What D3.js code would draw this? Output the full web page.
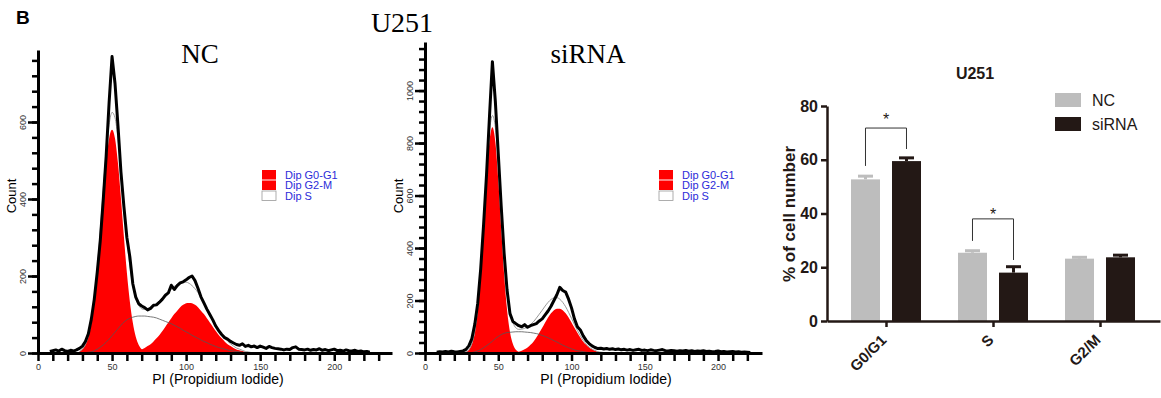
<!DOCTYPE html>
<html>
<head>
<meta charset="utf-8">
<script src="https://cdn.jsdelivr.net/npm/d3@7"></script>
<style>
  body { margin: 0; background: #fff; }
  svg { display: block; }
</style>
</head>
<body>
<svg id="fig" width="1161" height="398"></svg>
<script>
// ---------- histogram data (counts every 2 channels) ----------
const ncCountStart = 8;
const ncCount = [4,6,8,5,10,6,4,7,5,8,
  12,18,30,50,88,140,210,290,395,510,
  650,770,700,590,470,380,300,250,180,145,
  128,122,118,112,116,124,125,132,140,150,
  156,176,165,175,182,185,190,196,200,188,
  168,146,130,114,100,86,70,58,48,40,
  36,30,26,22,20,24,17,20,16,18,
  14,18,15,12,17,14,12,11,10,8,
  10,9,14,16,10,9,8,10,7,9,
  8,11,7,9,6,8,10,6,7,5,
  8,6,5,7,4,5,3,4,2];

// fitted components, channels 28..144 step 2
const ncFitStart = 28;
const ncG1 = [4,10,21,42,79,134,209,302,402,493,
  557,580,557,493,402,302,209,134,79,42,
  21,10,4,2,1,0,0,0,0,0,
  0,0,0,0,0,0,0,0,0,0,
  0,0,0,0,0,0,0,0,0,0,
  0,0,0,0,0,0,0,0,0];
const ncS = [0,0,1,2,3,6,10,15,21,28,
  36,45,54,63,72,80,86,90,93,95,
  96,96,96,95,94,93,91,88,85,82,
  79,76,72,68,64,59,55,51,46,42,
  38,34,30,27,23,20,17,14,12,10,
  8,6,5,4,3,2,1,1,0];
const ncG2 = [0,0,0,0,0,0,0,0,0,0,0,0,0,0,0,0,
  1,2,3,5,7,9,13,18,23,30,
  38,47,57,68,79,90,101,110,119,125,
  129,130,129,125,119,110,101,90,79,68,
  57,47,38,30,23,18,13,9,7,5,
  3,2,1];

const siCountStart = 8;
const siCount = [3,5,4,6,4,7,5,4,6,8,
  14,28,55,110,190,320,490,680,900,1110,
  960,760,560,380,240,150,120,112,104,100,
  108,98,104,108,112,122,130,145,160,178,
  200,222,250,238,232,205,172,130,100,88,
  65,48,36,27,21,17,18,15,17,14,
  16,13,15,12,14,11,13,10,12,14,
  10,11,9,12,10,9,11,13,9,8,
  10,9,7,9,8,10,7,9,6,8,
  7,9,6,7,5,6,8,5,6,4,
  5,6,4,5,3,4,3,2];

// fitted components, channels 26..122 step 2
const siFitStart = 26;
const siG1 = [1,4,12,34,80,165,299,474,660,805,
  860,805,660,474,299,165,80,34,12,4,
  1,0,0,0,0,0,0,0,0,0,
  0,0,0,0,0,0,0,0,0,0,
  0,0,0,0,0,0,0,0,0];
const siS = [0,0,1,2,4,8,13,20,28,36,
  45,55,63,70,75,78,79,80,81,81,
  81,80,79,78,76,74,71,67,63,58,
  53,47,42,36,30,25,20,16,12,9,
  7,5,3,2,1,1,0,0,0];
const siG2 = [0,0,0,0,0,0,0,0,0,0,0,0,0,0,0,0,
  1,2,3,5,9,14,21,31,43,59,
  77,96,116,135,151,163,169,169,163,151,
  135,116,96,77,59,43,31,21,14,9,
  5,3,2];

const legendLabels = ['Dip G0-G1', 'Dip G2-M', 'Dip S'];
const histXLabels = [0, 50, 100, 150, 200];
const ncYLabels = [0, 200, 400, 600];
const siYLabels = [0, 200, 400, 600, 800, 1000];

// ---------- bar chart data ----------
const phases = ['G0/G1', 'S', 'G2/M'];
const groups = ['NC', 'siRNA'];
const ncMean = [52.7, 25.4, 23.2];
const ncSem = [1.2, 0.75, 0.5];
const siMean = [59.5, 18.0, 23.7];
const siSem = [1.2, 2.2, 0.8];
const barTicks = [0, 20, 40, 60, 80];
// significance brackets: left end, top, right end, star height (%)
const sigPhases = ['G0/G1', 'S'];
const sigLeft = [57.7, 29.8];
const sigTop = [71.8, 38.0];
const sigRight = [64.0, 22.7];
const sigStar = [76.0, 40.7];

const SANS = 'Liberation Sans, Arial, sans-serif';
const SERIF = 'Liberation Serif, Times New Roman, serif';
const svg = d3.select('#fig');

function drawHistogram(cfg) {
  const g = svg.append('g');
  const x = d3.scaleLinear().domain([0, cfg.xMax]).range([cfg.left, cfg.right]);
  const y = d3.scaleLinear().domain([0, cfg.yMax]).range([cfg.bottom, cfg.top]);

  const fit = cfg.g1.map((v, i) => ({ch: cfg.fitStart + i * 2, g1: v, s: cfg.s[i], g2: cfg.g2[i]}));
  const counts = cfg.count.map((v, i) => ({ch: cfg.countStart + i * 2, c: v}));

  const area = key => d3.area().curve(d3.curveMonotoneX)
    .x(d => x(d.ch)).y0(y(0)).y1(d => y(d[key]));
  g.append('path').datum(fit).attr('d', area('g1')).attr('fill', '#ff0000');
  g.append('path').datum(fit).attr('d', area('g2')).attr('fill', '#ff0000');

  g.append('path').datum(fit)
    .attr('d', d3.line().curve(d3.curveMonotoneX).x(d => x(d.ch)).y(d => y(d.s)))
    .attr('fill', 'none').attr('stroke', '#555').attr('stroke-width', 0.8);
  g.append('path').datum(fit)
    .attr('d', d3.line().curve(d3.curveMonotoneX).x(d => x(d.ch)).y(d => y(d.g1 + d.s + d.g2)))
    .attr('fill', 'none').attr('stroke', '#999').attr('stroke-width', 1);

  g.append('path').datum(counts)
    .attr('d', d3.line().x(d => x(d.ch)).y(d => y(d.c)))
    .attr('fill', 'none').attr('stroke', '#000').attr('stroke-width', 3)
    .attr('stroke-linejoin', 'round');

  // x axis
  const xa = g.append('g').attr('transform', `translate(0,${cfg.bottom})`)
    .call(d3.axisBottom(x).tickValues(d3.range(0, cfg.xTickMax + 1, 10))
      .tickSize(8).tickSizeOuter(0).tickPadding(3)
      .tickFormat(d => histXLabels.includes(d) ? d : ''));
  xa.select('.domain').attr('stroke-width', 3);
  xa.selectAll('.tick line').attr('stroke-width', 2.5);
  xa.selectAll('text').attr('font-family', SANS).attr('font-size', 9).attr('fill', '#333');

  // y axis: minor ticks then labelled ticks
  const ya = g.append('g').attr('transform', `translate(${cfg.left},0)`)
    .call(d3.axisLeft(y).tickValues(d3.range(0, cfg.yTickMax + 1, 40))
      .tickSize(6).tickSizeOuter(0).tickFormat(''));
  ya.select('.domain').attr('stroke-width', 3);
  ya.selectAll('.tick line').attr('stroke-width', 2.5);
  const yl = g.append('g').attr('transform', `translate(${cfg.left},0)`)
    .call(d3.axisLeft(y).tickValues(cfg.yLabels).tickSize(10).tickSizeOuter(0)
      .tickFormat(d3.format('d')));
  yl.select('.domain').remove();
  yl.selectAll('.tick line').attr('stroke-width', 2.5);
  yl.selectAll('text')
    .attr('x', null).attr('dy', null)
    .attr('transform', 'translate(-12,0) rotate(-90)')
    .attr('text-anchor', 'middle')
    .attr('font-family', SANS).attr('font-size', 9).attr('fill', '#333');

  // axis titles
  g.append('text').attr('transform', `translate(${cfg.left - 22},${cfg.countY}) rotate(-90)`)
    .attr('text-anchor', 'middle').attr('font-family', SANS).attr('font-size', 13)
    .text('Count');
  g.append('text').attr('x', cfg.xTitleX).attr('y', 384)
    .attr('text-anchor', 'middle').attr('font-family', SANS).attr('font-size', 14)
    .text('PI (Propidium Iodide)');
  g.append('text').attr('x', cfg.titleX).attr('y', 63)
    .attr('text-anchor', 'middle').attr('font-family', SERIF).attr('font-size', 27)
    .text(cfg.title);

  // legend
  const lg = g.append('g').attr('transform', `translate(${cfg.legendX},170)`);
  legendLabels.forEach((lab, i) => {
    lg.append('rect').attr('x', 0).attr('y', i * 10.5).attr('width', 14).attr('height', 9.5)
      .attr('fill', i < 2 ? '#ff0000' : '#fff')
      .attr('stroke', i < 2 ? 'none' : '#999').attr('stroke-width', 0.8);
    lg.append('text').attr('x', 23).attr('y', i * 10.5 + 8.5)
      .attr('font-family', SANS).attr('font-size', 11).attr('fill', '#2b2bd9')
      .text(lab);
  });
}

drawHistogram({
  left: 38, right: 392, top: 50, bottom: 353, xMax: 239, yMax: 787,
  xTickMax: 230, yTickMax: 760, yLabels: ncYLabels,
  count: ncCount, countStart: ncCountStart,
  g1: ncG1, s: ncS, g2: ncG2, fitStart: ncFitStart,
  title: 'NC', titleX: 200, xTitleX: 218, countY: 196, legendX: 262
});
drawHistogram({
  left: 425, right: 762, top: 42, bottom: 353, xMax: 230, yMax: 1185,
  xTickMax: 220, yTickMax: 1160, yLabels: siYLabels,
  count: siCount, countStart: siCountStart,
  g1: siG1, s: siS, g2: siG2, fitStart: siFitStart,
  title: 'siRNA', titleX: 588, xTitleX: 606, countY: 196, legendX: 659
});

// figure headings
svg.append('text').attr('x', 16).attr('y', 24)
  .attr('font-family', SANS).attr('font-weight', 'bold').attr('font-size', 19).text('B');
svg.append('text').attr('x', 402).attr('y', 32).attr('text-anchor', 'middle')
  .attr('font-family', SERIF).attr('font-size', 28).text('U251');

// ---------- bar chart ----------
const bar = svg.append('g');
const yBar = d3.scaleLinear().domain([0, 80]).range([321, 106]);
const xBar = d3.scaleBand().domain(phases).range([827, 1160]).paddingInner(0).paddingOuter(0.056);
const xSub = d3.scaleBand().domain(groups).range([-35.5, 34.5]).paddingInner(0.293);
const colors = {NC: '#bdbdbd', siRNA: '#231815'};
const seriesMean = {NC: ncMean, siRNA: siMean};
const seriesSem = {NC: ncSem, siRNA: siSem};

const barData = [];
phases.forEach((p, i) => groups.forEach(grp => {
  barData.push({phase: p, group: grp, mean: seriesMean[grp][i], sem: seriesSem[grp][i]});
}));
const bx = d => xBar(d.phase) + xBar.bandwidth() / 2 + xSub(d.group);

bar.selectAll('rect.bar').data(barData).enter().append('rect')
  .attr('class', 'bar')
  .attr('x', bx)
  .attr('y', d => yBar(d.mean))
  .attr('width', xSub.bandwidth())
  .attr('height', d => yBar(0) - yBar(d.mean))
  .attr('fill', d => colors[d.group]);

// error bars (upper only)
bar.selectAll('line.stem').data(barData).enter().append('line')
  .attr('x1', d => bx(d) + xSub.bandwidth() / 2).attr('x2', d => bx(d) + xSub.bandwidth() / 2)
  .attr('y1', d => yBar(d.mean)).attr('y2', d => yBar(d.mean + d.sem))
  .attr('stroke', d => colors[d.group]).attr('stroke-width', 3);
bar.selectAll('line.cap').data(barData).enter().append('line')
  .attr('x1', d => bx(d) + xSub.bandwidth() / 2 - 7.5).attr('x2', d => bx(d) + xSub.bandwidth() / 2 + 7.5)
  .attr('y1', d => yBar(d.mean + d.sem)).attr('y2', d => yBar(d.mean + d.sem))
  .attr('stroke', d => colors[d.group]).attr('stroke-width', 3);

// axes
const yAx = bar.append('g').attr('transform', 'translate(827,0)')
  .call(d3.axisLeft(yBar).tickValues(barTicks).tickSize(6).tickSizeOuter(0).tickPadding(3));
yAx.select('.domain').attr('stroke', '#231815').attr('stroke-width', 2.5);
yAx.selectAll('.tick line').attr('stroke', '#231815').attr('stroke-width', 2.5);
yAx.selectAll('text').attr('font-family', SANS).attr('font-weight', 'bold')
  .attr('font-size', 16).attr('fill', '#231815');

const xAx = bar.append('g').attr('transform', 'translate(0,321)')
  .call(d3.axisBottom(xBar).tickSize(6).tickSizeOuter(0).tickPadding(3));
xAx.select('.domain').attr('stroke', '#231815').attr('stroke-width', 2.5);
xAx.selectAll('.tick line').attr('stroke', '#231815').attr('stroke-width', 2.5);
xAx.selectAll('text')
  .attr('y', null).attr('dy', null)
  .attr('transform', 'translate(1,20) rotate(-45)')
  .attr('text-anchor', 'end')
  .attr('font-family', SANS).attr('font-weight', 'bold')
  .attr('font-size', 15).attr('fill', '#231815');

bar.append('text')
  .attr('transform', `translate(795,214) rotate(-90)`)
  .attr('text-anchor', 'middle').attr('font-family', SANS).attr('font-weight', 'bold')
  .attr('font-size', 17).attr('fill', '#231815').text('% of cell number');
bar.append('text').attr('x', 975).attr('y', 79).attr('text-anchor', 'middle')
  .attr('font-family', SANS).attr('font-weight', 'bold').attr('font-size', 16)
  .attr('fill', '#231815').text('U251');

// significance brackets
const cx = (p, grp) => xBar(p) + xBar.bandwidth() / 2 + xSub(grp) + xSub.bandwidth() / 2;
sigPhases.forEach((p, i) => {
  const xl = cx(p, 'NC'), xr = cx(p, 'siRNA');
  bar.append('path')
    .attr('d', `M${xl},${yBar(sigLeft[i])}V${yBar(sigTop[i])}H${xr}V${yBar(sigRight[i])}`)
    .attr('fill', 'none').attr('stroke', '#333').attr('stroke-width', 1);
  bar.append('text').attr('x', (xl + xr) / 2).attr('y', yBar(sigStar[i]) + 8)
    .attr('text-anchor', 'middle').attr('font-family', SANS).attr('font-size', 16)
    .attr('fill', '#231815').text('*');
});

// legend
const bl = bar.append('g').attr('transform', 'translate(1055,93)');
groups.forEach((grp, i) => {
  bl.append('rect').attr('x', 0).attr('y', i * 24).attr('width', 26).attr('height', 14)
    .attr('fill', colors[grp]);
  bl.append('text').attr('x', 37).attr('y', i * 24 + 13)
    .attr('font-family', SANS).attr('font-size', 16).attr('fill', '#231815').text(grp);
});
</script>
</body>
</html>
